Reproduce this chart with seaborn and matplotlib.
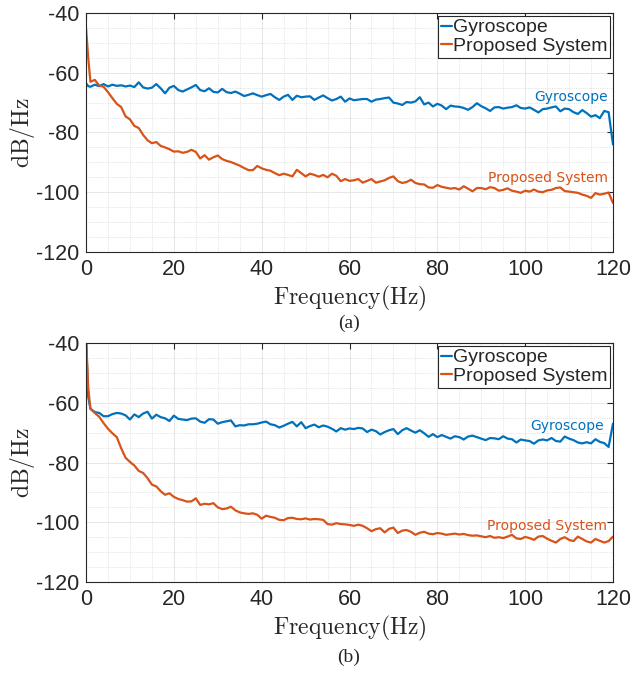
import numpy as np
import pandas as pd
import matplotlib
matplotlib.use("Agg")
import matplotlib.pyplot as plt
import seaborn as sns
from matplotlib.ticker import MultipleLocator

# frequency grid (Hz) shared by all four curves
freq = [0, 0.5] + list(range(1, 121))

# panel (a)
gyro_a = [
    -63.5, -64.5,
    -64.7, -64.0, -64.5, -63.8, -64.6, -64.0, -64.4, -64.2, -64.6, -64.3,
    -64.8, -63.2, -64.9, -65.3, -65.0, -63.8, -65.2, -66.9, -65.0, -64.4,
    -65.8, -66.3, -65.6, -64.9, -64.1, -65.8, -66.2, -65.2, -66.4, -66.6,
    -65.4, -66.5, -66.8, -66.3, -67.0, -67.8, -67.4, -66.9, -67.5, -68.0,
    -67.5, -67.1, -68.2, -69.1, -68.0, -67.4, -69.1, -67.7, -68.2, -68.0,
    -67.9, -69.1, -68.3, -67.6, -68.5, -69.3, -68.8, -68.0, -69.7, -68.6,
    -69.2, -69.0, -68.8, -68.8, -69.7, -69.0, -68.8, -68.5, -68.3, -70.0,
    -70.3, -70.8, -69.8, -70.0, -69.6, -68.2, -70.6, -70.0, -71.3, -70.4,
    -71.0, -72.2, -71.0, -71.3, -71.4, -71.8, -72.4, -71.5, -70.2, -71.2,
    -71.9, -72.8, -71.6, -71.5, -72.0, -71.7, -71.5, -70.9, -71.8, -72.0,
    -71.6, -72.4, -73.3, -72.2, -72.0, -71.6, -71.3, -72.9, -72.0, -72.2,
    -73.2, -73.8, -72.5, -73.5, -74.7, -74.2, -75.2, -72.8, -73.2, -84.0,
]
prop_a = [
    -45.0, -55.0,
    -63.0, -62.4, -64.3, -64.7, -66.5, -68.5, -70.4, -71.5, -74.6, -75.6,
    -77.8, -78.5, -80.8, -82.6, -83.6, -83.2, -84.5, -85.0, -85.6, -86.4,
    -86.3, -86.8, -86.5, -85.8, -86.5, -88.7, -87.6, -89.1, -88.3, -87.7,
    -88.9, -89.5, -89.9, -90.5, -91.1, -91.9, -92.6, -92.6, -91.2, -92.0,
    -92.5, -92.8, -93.6, -94.3, -93.8, -94.2, -94.7, -92.5, -93.6, -94.7,
    -93.8, -94.2, -94.8, -94.2, -95.0, -93.8, -94.5, -96.3, -95.6, -96.2,
    -96.0, -95.6, -96.8, -96.2, -95.6, -96.8, -96.4, -96.0, -95.2, -94.7,
    -96.3, -96.9, -96.6, -95.8, -96.9, -97.3, -97.4, -98.4, -98.5, -97.6,
    -98.2, -98.5, -98.8, -98.6, -99.1, -98.0, -98.8, -99.7, -98.6, -98.6,
    -99.0, -98.3, -98.6, -99.5, -99.2, -98.7, -99.5, -99.8, -100.2, -99.5,
    -99.8, -99.1, -99.8, -100.0, -99.4, -99.2, -98.6, -98.4, -99.6, -99.8,
    -100.0, -100.2, -100.8, -101.2, -101.9, -100.3, -100.8, -100.5, -100.1, -103.6,
]

# panel (b)
gyro_b = [
    -38.0, -58.0,
    -62.0, -63.1, -63.4, -64.5, -64.5, -63.8, -63.4, -63.6, -64.2, -65.6,
    -63.9, -64.8, -63.6, -63.0, -65.3, -64.0, -64.8, -65.2, -66.1, -64.3,
    -65.4, -65.6, -65.8, -65.3, -65.2, -66.3, -66.7, -65.5, -65.6, -67.0,
    -66.5, -66.2, -65.9, -67.9, -67.5, -67.6, -67.2, -67.2, -67.0, -66.6,
    -66.3, -67.2, -67.5, -68.3, -67.7, -67.0, -66.4, -67.9, -66.5, -68.5,
    -67.8, -67.3, -68.2, -67.6, -68.0, -68.7, -69.6, -68.5, -69.0, -68.6,
    -68.8, -68.4, -68.6, -69.8, -69.0, -69.5, -70.6, -69.8, -69.2, -68.8,
    -70.5, -69.2, -68.5, -69.3, -70.0, -69.2, -70.2, -71.4, -70.5, -71.5,
    -70.8, -71.4, -72.0, -71.2, -71.5, -72.3, -71.3, -71.0, -71.5, -72.0,
    -72.5, -71.8, -71.9, -72.2, -71.2, -72.0, -72.2, -73.3, -72.3, -72.6,
    -72.8, -73.7, -72.6, -72.3, -72.6, -71.8, -72.8, -73.0, -71.3, -72.0,
    -72.5, -73.3, -73.6, -73.2, -73.6, -72.2, -73.1, -73.5, -74.8, -67.0,
]
prop_b = [
    -38.0, -55.0,
    -62.0, -63.4, -64.7, -66.8, -68.7, -70.2, -71.5, -75.2, -78.4, -79.8,
    -81.0, -82.8, -83.5, -85.2, -87.4, -88.0, -89.6, -90.8, -90.3, -91.5,
    -92.2, -92.6, -93.1, -93.0, -92.0, -94.2, -93.8, -94.0, -93.6, -95.0,
    -95.6, -95.4, -94.8, -96.0, -96.7, -97.0, -97.2, -97.0, -97.5, -98.8,
    -97.8, -98.2, -98.5, -99.2, -99.3, -98.6, -98.5, -98.9, -99.0, -98.7,
    -99.1, -98.9, -99.0, -99.2, -100.6, -100.8, -100.3, -100.6, -100.7, -100.9,
    -101.2, -100.8, -101.2, -102.0, -103.0, -102.3, -102.0, -103.4, -102.2, -101.8,
    -103.6, -102.8, -102.6, -103.2, -104.2, -103.5, -103.2, -103.8, -104.0, -103.6,
    -103.8, -104.2, -104.0, -103.8, -104.1, -103.9, -104.3, -104.5, -104.4, -104.7,
    -105.0, -104.6, -105.2, -105.0, -105.3, -104.8, -104.2, -105.4, -105.6, -104.9,
    -105.3, -105.9, -104.8, -104.6, -105.5, -106.2, -106.8, -105.6, -105.0, -105.9,
    -106.3, -104.8, -105.6, -106.4, -106.8, -105.6, -106.2, -106.8, -106.3, -104.8,
]

series = ["Gyroscope", "Proposed System"]
colors = ["#0072BD", "#D95319"]
captions = ["(a)", "(b)"]
# in-plot labels: (x, y) for Gyroscope and Proposed System per panel
label_pos = [[(118.9, -68.1), (118.9, -95.4)], [(118.0, -67.7), (118.7, -101.1)]]

sns.set_style("white")
plt.rcParams["font.family"] = ["Liberation Sans", "DejaVu Sans"]
plt.rcParams["mathtext.fontset"] = "cm"
plt.rcParams["axes.unicode_minus"] = False

fig = plt.figure(figsize=(6.33, 6.73), dpi=100)
ax_a = fig.add_axes([0.1359, 0.6256, 0.8325, 0.3551])
ax_b = fig.add_axes([0.1359, 0.1352, 0.8325, 0.3551])

panels = [(ax_a, gyro_a, prop_a), (ax_b, gyro_b, prop_b)]
for i, (ax, g, p) in enumerate(panels):
    df = pd.concat([
        pd.DataFrame({"freq": freq, "psd": g, "series": series[0]}),
        pd.DataFrame({"freq": freq, "psd": p, "series": series[1]}),
    ])
    sns.lineplot(data=df, x="freq", y="psd", hue="series", palette=colors,
                 linewidth=1.6, ax=ax, legend=True)
    ax.set_xlim(0, 120)
    ax.set_ylim(-120, -40)
    ax.xaxis.set_major_locator(MultipleLocator(20))
    ax.yaxis.set_major_locator(MultipleLocator(20))
    ax.xaxis.set_minor_locator(MultipleLocator(5))
    ax.yaxis.set_minor_locator(MultipleLocator(5))
    ax.grid(True, which="major", color="#e3e3e3", linewidth=0.6)
    ax.grid(True, which="minor", color="#cfcfcf", linewidth=0.5, linestyle=":")
    ax.tick_params(which="major", direction="in", length=4.5, width=0.8,
                   top=True, right=True, labelsize=15.5, colors="#262626",
                   pad=5)
    ax.tick_params(which="minor", length=0)
    for s in ax.spines.values():
        s.set_color("#262626")
        s.set_linewidth(0.8)
    ax.set_xlabel(r"$\mathrm{Frequency(Hz)}$", fontsize=17, labelpad=3)
    ax.set_ylabel(r"$\mathrm{dB/Hz}$", fontsize=17, labelpad=-1)
    h, l = ax.get_legend_handles_labels()
    ax.legend(h, l, loc="upper right", fontsize=14, handlelength=0.55,
              handletextpad=0.05, borderpad=0.15, labelspacing=0.05,
              borderaxespad=0.15, fancybox=False, edgecolor="#262626",
              framealpha=1)
    ax.get_legend().get_frame().set_linewidth(0.8)
    for (tx, ty), lab, c in zip(label_pos[i], series, colors):
        ax.text(tx, ty, lab, color=c, fontsize=10, ha="right", va="center",
                family=["DejaVu Sans"])

fig.text(0.5513, 0.520, captions[0], ha="center", va="center",
         fontsize=14, family=["Liberation Serif"])
fig.text(0.5513, 0.024, captions[1], ha="center", va="center",
         fontsize=14, family=["Liberation Serif"])

fig.savefig("out.png", dpi=100)
